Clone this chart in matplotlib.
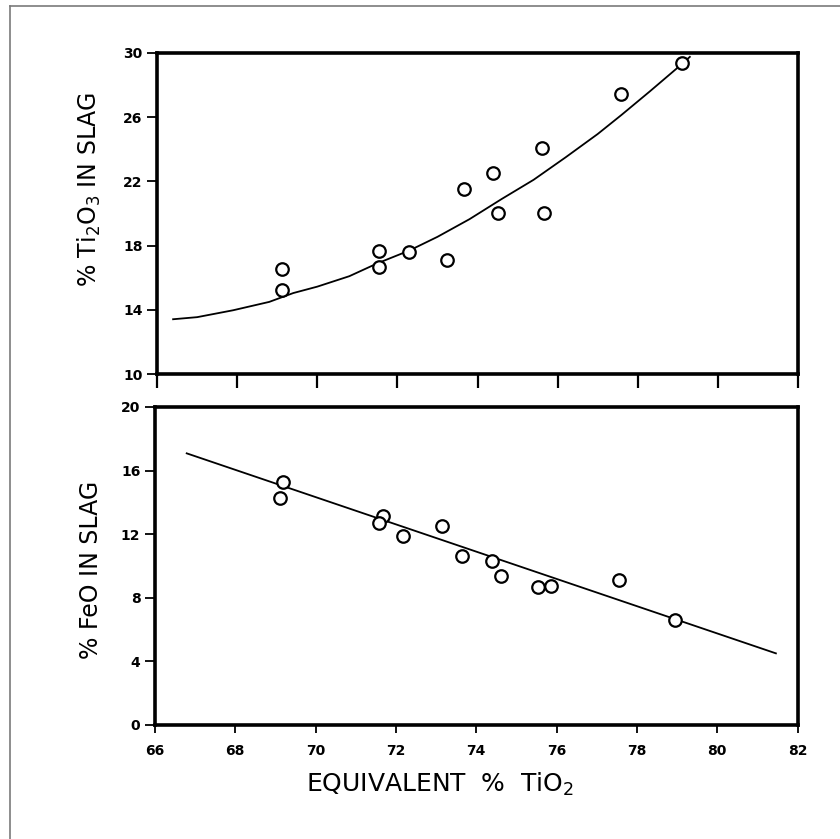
import numpy as np
import matplotlib.pyplot as plt
from matplotlib.lines import Line2D

# Ti2O3 in slag vs equivalent TiO2
ti_x = [69.13, 69.11, 71.54, 71.54, 72.28, 73.24, 73.67, 74.39, 74.52, 75.62, 75.66, 77.57, 79.10]
ti_y = [16.53, 15.24, 17.69, 16.69, 17.61, 17.13, 21.54, 22.54, 20.01, 24.07, 20.03, 27.45, 29.36]

# hand drawn curve through the Ti2O3 points
ti_curve_x = [66.4, 67.0, 67.9, 68.8, 69.4, 70.0, 70.8, 71.5, 72.3, 73.0, 73.8,
              74.6, 75.4, 76.2, 77.0, 77.6, 78.3, 79.1, 79.3]
ti_curve_y = [13.42, 13.55, 13.98, 14.5, 15.05, 15.45, 16.1, 16.9, 17.7, 18.55, 19.65,
              20.9, 22.1, 23.5, 24.95, 26.15, 27.6, 29.3, 29.75]

# FeO in slag vs equivalent TiO2
fe_x = [69.18, 69.12, 71.67, 71.59, 72.18, 73.15, 73.64, 74.40, 74.61, 75.53, 75.85, 77.55, 78.96]
fe_y = [15.27, 14.30, 13.16, 12.68, 11.88, 12.52, 10.63, 10.30, 9.39, 8.70, 8.75, 9.12, 6.59]

fe_line_x = [66.79, 81.46]
fe_line_y = [17.08, 4.50]

xticks = [66, 68, 70, 72, 74, 76, 78, 80, 82]
ti_yticks = [10, 14, 18, 22, 26, 30]
fe_yticks = [0, 4, 8, 12, 16, 20]

fig = plt.figure(figsize=(8.4, 8.39), dpi=100)

# thin grey page border (top and left only)
fig.add_artist(Line2D([10/840, 1], [1 - 6/839, 1 - 6/839], color='#7a7a7a', lw=1.2))
fig.add_artist(Line2D([10/840, 10/840], [0, 1 - 6/839], color='#7a7a7a', lw=1.2))

ax1 = fig.add_axes([0.187, 0.554, 0.763, 0.383])
ax2 = fig.add_axes([0.1845, 0.136, 0.765, 0.379])

mk = dict(marker='o', ms=9, mfc='white', mec='black', mew=1.6, ls='none', zorder=3)

ax1.plot(ti_curve_x, ti_curve_y, color='black', lw=1.3, zorder=2)
ax1.plot(ti_x, ti_y, **mk)
ax1.set_xlim(66, 82)
ax1.set_ylim(10, 30)
ax1.set_xticks(xticks)
ax1.set_xticklabels([])
ax1.set_yticks(ti_yticks)
ax1.tick_params(axis='x', direction='out', length=10, width=1.6)
ax1.tick_params(axis='y', direction='out', length=7, width=1.3, labelsize=10)
ax1.set_ylabel('% Ti$_2$O$_3$ IN SLAG', fontsize=17)
ax1.yaxis.set_label_coords(-0.084, 0.573)

ax2.plot(fe_line_x, fe_line_y, color='black', lw=1.3, zorder=2)
ax2.plot(fe_x, fe_y, **mk)
ax2.set_xlim(66, 82)
ax2.set_ylim(0, 20)
ax2.set_xticks(xticks)
ax2.set_yticks(fe_yticks)
ax2.tick_params(axis='x', direction='out', length=6, width=1.3, labelsize=10, pad=8)
ax2.tick_params(axis='y', direction='out', length=7, width=1.3, labelsize=10)
ax2.set_ylabel('% FeO IN SLAG', fontsize=17)
ax2.yaxis.set_label_coords(-0.081, 0.487)
ax2.set_xlabel('EQUIVALENT  %  TiO$_2$', fontsize=18)
ax2.xaxis.set_label_coords(0.443, -0.145)

for ax in (ax1, ax2):
    for side in ['left', 'right', 'top', 'bottom']:
        ax.spines[side].set_linewidth(2.6)
    for lab in ax.get_yticklabels() + ax.get_xticklabels():
        lab.set_fontweight('bold')

plt.savefig('out.png', dpi=100)
